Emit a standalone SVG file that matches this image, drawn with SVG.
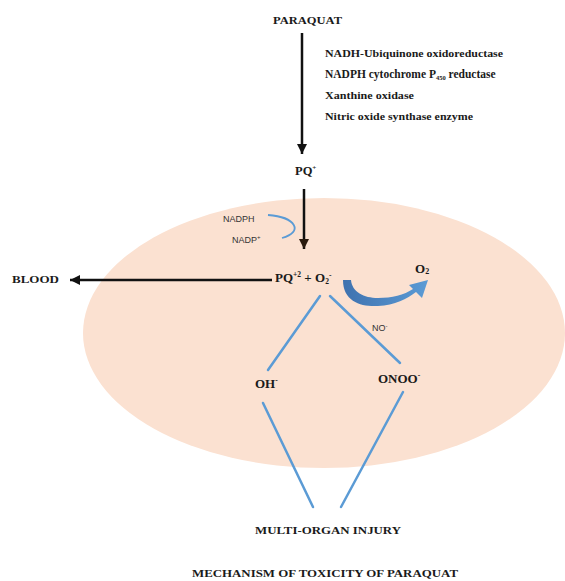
<svg xmlns="http://www.w3.org/2000/svg" width="565" height="581" viewBox="0 0 565 581">
  <style>
    .b { font-family: "Liberation Serif", "Times New Roman", serif; font-weight: bold; fill: #1a1a1a; }
    .s { font-family: "Liberation Sans", Arial, sans-serif; fill: #333333; font-size: 9px; }
    .blue { stroke: #5B9BD5; stroke-width: 2.5; fill: none; stroke-linecap: round; }
    .arr { stroke: #111111; stroke-width: 2.5; fill: none; }
  </style>
  <defs>
    <marker id="ah" markerUnits="userSpaceOnUse" markerWidth="12" markerHeight="12" refX="10" refY="5" orient="auto">
      <path d="M0,0 L10,5 L0,10 Z" fill="#111111"/>
    </marker>
    <marker id="ah2" markerUnits="userSpaceOnUse" markerWidth="12" markerHeight="12" refX="10" refY="5" orient="auto">
      <path d="M0,0 L10,5 L0,10 Z" fill="#2a1a0e"/>
    </marker>
    <linearGradient id="cg" x1="0" y1="0" x2="1" y2="0">
      <stop offset="0" stop-color="#3F72AF"/>
      <stop offset="1" stop-color="#5B9BD5"/>
    </linearGradient>
  </defs>

  <rect width="565" height="581" fill="#ffffff"/>

  <g id="cell">
    <ellipse cx="324" cy="333" rx="241" ry="135" fill="#FBE1D1"/>
  </g>

  <g id="connectors">
    <line class="arr" x1="302" y1="33" x2="302" y2="154" marker-end="url(#ah)"/>
    <line class="arr" x1="304" y1="189" x2="304" y2="249" stroke="#2a1a0e" marker-end="url(#ah2)"/>
    <line class="arr" x1="272" y1="280" x2="70" y2="280" marker-end="url(#ah)"/>
    <path d="M268,215 C296,217 304,232 282,238" stroke="#5B9BD5" stroke-width="1.8" fill="none"/>
    <path d="M343,280 C343,302 362,307 378,306 C395,305 407,299 416,292 L422,298 L428,280 L409,285 L413,289 C404,295 392,298 378,298 C364,298 352,292 351,280 Z" fill="url(#cg)"/>
    <line class="blue" x1="320" y1="296" x2="268" y2="370"/>
    <line class="blue" x1="330" y1="296" x2="400" y2="363"/>
    <line class="blue" x1="263" y1="403" x2="313" y2="507"/>
    <line class="blue" x1="403" y1="392" x2="341" y2="507"/>
  </g>

  <g id="paraquat">
    <text class="b" x="273" y="24" font-size="11" textLength="69" lengthAdjust="spacingAndGlyphs">PARAQUAT</text>
  </g>

  <g id="enzymes">
    <text class="b" x="325" y="57" font-size="11" textLength="178" lengthAdjust="spacingAndGlyphs">NADH-Ubiquinone oxidoreductase</text>
    <text class="b" x="325" y="78" font-size="11.5">NADPH cytochrome P<tspan font-size="6.5" dy="2">450</tspan><tspan dy="-2"> reductase</tspan></text>
    <text class="b" x="325" y="99" font-size="11" textLength="89" lengthAdjust="spacingAndGlyphs">Xanthine oxidase</text>
    <text class="b" x="325" y="120" font-size="11" textLength="148" lengthAdjust="spacingAndGlyphs">Nitric oxide synthase enzyme</text>
  </g>

  <g id="pq-plus">
    <text class="b" x="295" y="175" font-size="12.5">PQ<tspan font-size="7" dy="-5">+</tspan></text>
  </g>

  <g id="nadph">
    <text class="s" x="223" y="222">NADPH</text>
    <text class="s" x="232" y="243">NADP<tspan font-size="6" dy="-4">+</tspan></text>
  </g>

  <g id="pq2-o2">
    <text class="b" x="275" y="282" font-size="13">PQ<tspan font-size="7.5" dy="-5">+2</tspan><tspan dy="5"> + O</tspan><tspan font-size="7.5" dy="2">2</tspan><tspan font-size="7.5" dy="-6">-</tspan></text>
  </g>

  <g id="blood">
    <text class="b" x="12" y="283" font-size="10.5" textLength="47" lengthAdjust="spacingAndGlyphs">BLOOD</text>
  </g>

  <g id="o2">
    <text class="b" x="415" y="273" font-size="13">O<tspan font-size="8" dy="1">2</tspan></text>
  </g>

  <g id="no">
    <text class="s" x="372" y="331">NO<tspan font-size="6" dy="-3">-</tspan></text>
  </g>

  <g id="oh">
    <text class="b" x="255" y="388" font-size="13">OH<tspan font-size="7.5" dy="-5">-</tspan></text>
  </g>

  <g id="onoo">
    <text class="b" x="378" y="383" font-size="13">ONOO<tspan font-size="7.5" dy="-5">-</tspan></text>
  </g>

  <g id="injury">
    <text class="b" x="255" y="534" font-size="10.5" textLength="146" lengthAdjust="spacingAndGlyphs">MULTI-ORGAN INJURY</text>
  </g>

  <g id="title">
    <text class="b" x="192" y="577" font-size="10.5" textLength="266" lengthAdjust="spacingAndGlyphs">MECHANISM OF TOXICITY OF PARAQUAT</text>
  </g>
</svg>
